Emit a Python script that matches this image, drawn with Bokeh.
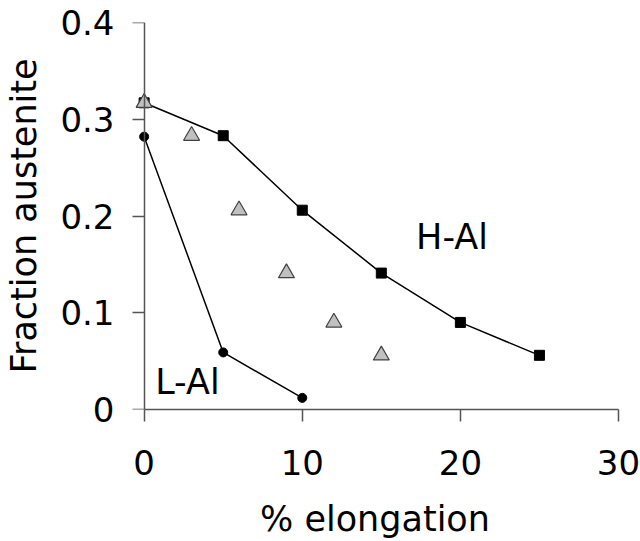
from bokeh.plotting import figure
from bokeh.models import Range1d, FixedTicker, Label, LinearAxis
from bokeh.embed import file_html
from bokeh.resources import INLINE

# Data
hal_x = [0, 5, 10, 15, 20, 25]
hal_y = [0.317, 0.283, 0.206, 0.141, 0.090, 0.056]
lal_x = [0, 5, 10]
lal_y = [0.282, 0.059, 0.012]
tri_x = [0, 3, 6, 9, 12, 15]
tri_y = [0.317, 0.283, 0.206, 0.141, 0.090, 0.056]
x_ticks = [0, 10, 20, 30]
y_ticks = [0, 0.1, 0.2, 0.3, 0.4]
y_tick_labels = {0: "0", 0.1: "0.1", 0.2: "0.2", 0.3: "0.3", 0.4: "0.4"}

FONT = "DejaVu Sans"
AXC = "#555555"

p = figure(width=640, height=541, output_backend="svg", toolbar_location=None,
           x_range=Range1d(-0.8, 30), y_range=Range1d(0, 0.4),
           min_border_left=131, min_border_right=22, min_border_top=22, min_border_bottom=131)
p.outline_line_color = None
p.grid.visible = False
p.background_fill_color = "white"
p.border_fill_color = "white"

for ax in (p.xaxis[0], p.yaxis[0]):
    ax.axis_line_color = AXC
    ax.axis_line_width = 1.5
    ax.major_tick_line_color = AXC
    ax.major_tick_line_width = 1.5
    ax.major_tick_out = 12
    ax.major_tick_in = 0
    ax.minor_tick_line_color = None
    ax.major_label_text_font = FONT
    ax.major_label_text_font_size = "34px"
    ax.major_label_text_color = "black"
    ax.axis_label_text_font = FONT
    ax.axis_label_text_font_size = "35px"
    ax.axis_label_text_font_style = "normal"
    ax.axis_label_text_color = "black"

p.xaxis.ticker = FixedTicker(ticks=x_ticks)
p.xaxis.bounds = (0, 30)
p.xaxis.major_label_standoff = 28
p.xaxis.axis_label = "% elongation"
p.xaxis.axis_label_standoff = 21

# left axis: labels only (line & ticks drawn by the axis at x=0)
ya = p.yaxis[0]
ya.ticker = FixedTicker(ticks=y_ticks)
ya.major_label_overrides = y_tick_labels
ya.axis_line_color = None
ya.major_tick_line_color = None
ya.major_label_standoff = 5
ya.axis_label = "Fraction austenite"
ya.axis_label_text_font_size = "35px"
ya.axis_label_standoff = 13

# axis line and ticks located at x = 0
ya2 = LinearAxis(ticker=FixedTicker(ticks=y_ticks), fixed_location=0,
                 axis_line_color=AXC, axis_line_width=1.5,
                 major_tick_line_color=AXC, major_tick_line_width=1.5,
                 major_tick_in=12, major_tick_out=0, minor_tick_line_color=None,
                 major_label_overrides={t: "" for t in y_ticks},
                 major_label_text_color=None, major_label_text_font_size="1px",
                 major_label_standoff=0)
p.add_layout(ya2, "right")

p.line(hal_x, hal_y, line_color="black", line_width=1.5)
p.scatter(hal_x, hal_y, marker="square", size=10, fill_color="black", line_color="black")
p.line(lal_x, lal_y, line_color="black", line_width=1.5)
p.scatter(lal_x, lal_y, marker="circle", size=9, fill_color="black", line_color="black")
p.scatter(tri_x, tri_y, marker="triangle", size=16, fill_color="#c0c0c0", line_color="#404040", line_width=1.2)

p.add_layout(Label(x=17.2, y=0.178, text="H-Al", text_font=FONT, text_font_size="35px",
                   text_color="black", text_baseline="alphabetic", text_align="left"))
p.add_layout(Label(x=0.7, y=0.028, text="L-Al", text_font=FONT, text_font_size="35px",
                   text_color="black", text_baseline="alphabetic", text_align="left"))

open("out.html", "w").write(file_html(p, INLINE))
